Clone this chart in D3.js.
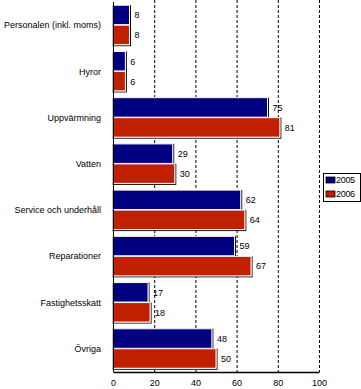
<!DOCTYPE html>
<html>
<head>
<meta charset="utf-8">
<script src="https://cdn.jsdelivr.net/npm/d3@7"></script>
<style>
  body { margin: 0; background: #fff; }
  svg { display: block; font-family: "Liberation Sans", Arial, sans-serif; }
</style>
</head>
<body>
<div id="chart"></div>
<script>
const categories = ['Personalen (inkl. moms)', 'Hyror', 'Uppvärmning', 'Vatten',
  'Service och underhåll', 'Reparationer', 'Fastighetsskatt', 'Övriga']
const years = ['2005', '2006']
const values2005 = [8, 6, 75, 29, 62, 59, 17, 48]
const values2006 = [8, 6, 81, 30, 64, 67, 18, 50]
const xTicks = [0, 20, 40, 60, 80, 100]

const width = 361
const height = 389
const margin = { top: 2, right: 42, bottom: 17, left: 113 }
const colors = { '2005': '#000080', '2006': '#c02000' }

const rows = categories.map((c, i) => ({ cat: c, v: { '2005': values2005[i], '2006': values2006[i] } }))

const svg = d3.select('#chart').append('svg')
  .attr('width', width)
  .attr('height', height)

const x = d3.scaleLinear()
  .domain([0, 100])
  .range([margin.left, margin.left + 206])

const y = d3.scaleBand()
  .domain(categories)
  .range([margin.top, height - margin.bottom])
  .paddingInner(0.135)
  .paddingOuter(0.07)

const y1 = d3.scaleBand()
  .domain(years)
  .range([0, y.bandwidth()])

// dashed grid
svg.append('g')
  .selectAll('line')
  .data(xTicks.filter(d => d > 0))
  .join('line')
  .attr('x1', d => x(d) + 0.5)
  .attr('x2', d => x(d) + 0.5)
  .attr('y1', 0)
  .attr('y2', height - margin.bottom)
  .attr('stroke', '#000')
  .attr('stroke-dasharray', '3,2')

const groups = svg.append('g')
  .selectAll('g')
  .data(rows)
  .join('g')
  .attr('transform', d => `translate(0,${y(d.cat)})`)

const bars = groups.selectAll('g')
  .data(d => years.map(yr => ({ yr, val: d.v[yr] })))
  .join('g')

// shadow outline
bars.append('rect')
  .attr('x', x(0))
  .attr('y', d => y1(d.yr) + 0.5)
  .attr('width', d => x(d.val) - x(0) + 1)
  .attr('height', y1.bandwidth())
  .attr('fill', 'none')
  .attr('stroke', '#000')

bars.append('rect')
  .attr('x', x(0))
  .attr('y', d => y1(d.yr))
  .attr('width', d => x(d.val) - x(0))
  .attr('height', y1.bandwidth() - 0.5)
  .attr('fill', d => colors[d.yr])
  .attr('stroke', '#fff')
  .attr('stroke-width', 1)

bars.append('text')
  .attr('x', d => x(d.val) + 5)
  .attr('y', d => y1(d.yr) + y1.bandwidth() / 2)
  .attr('dy', '0.35em')
  .attr('font-size', 9)
  .attr('fill', '#000')
  .text(d => d.val)

// category labels
svg.append('g')
  .selectAll('text')
  .data(categories)
  .join('text')
  .attr('x', 101)
  .attr('y', d => y(d) + y.bandwidth() / 2)
  .attr('dy', '0.35em')
  .attr('text-anchor', 'end')
  .attr('font-size', 9)
  .text(d => d)

// axes
svg.append('line')
  .attr('x1', x(0) + 0.5).attr('x2', x(0) + 0.5)
  .attr('y1', margin.top).attr('y2', height - margin.bottom)
  .attr('stroke', '#000')

const xAxis = g => g
  .attr('transform', `translate(0,${height - margin.bottom})`)
  .call(d3.axisBottom(x).tickValues(xTicks).tickSize(0).tickPadding(8))
  .call(g => g.select('.domain').attr('stroke-width', 1.5))
  .call(g => g.selectAll('text').attr('font-size', 9).attr('font-family', '"Liberation Sans", Arial, sans-serif'))

svg.append('g').call(xAxis)

// legend
const legend = svg.append('g').attr('transform', 'translate(323,173)')
legend.append('rect')
  .attr('x', 0.5).attr('y', 0.5)
  .attr('width', 37).attr('height', 28)
  .attr('fill', '#fff')
  .attr('stroke', '#000')

const items = legend.selectAll('g')
  .data(years)
  .join('g')
  .attr('transform', (d, i) => `translate(3,${4 + i * 14})`)

items.append('rect')
  .attr('width', 9).attr('height', 6)
  .attr('fill', d => colors[d])
  .attr('stroke', '#000')
  .attr('stroke-width', 0.8)

items.append('text')
  .attr('x', 10)
  .attr('y', 3)
  .attr('dy', '0.35em')
  .attr('font-size', 9)
  .attr('letter-spacing', -0.3)
  .text(d => d)
</script>
</body>
</html>
